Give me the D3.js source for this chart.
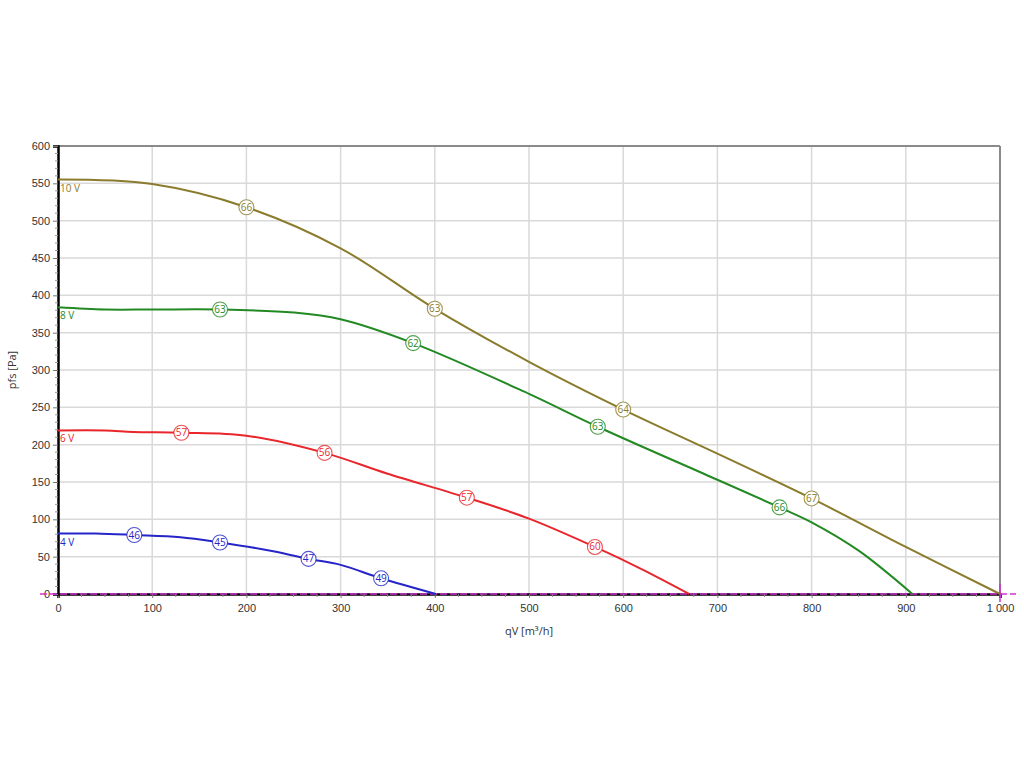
<!DOCTYPE html>
<html><head><meta charset="utf-8">
<script src="https://cdn.jsdelivr.net/npm/d3@7"></script>
<style>
body{margin:0;background:#fff;}
svg{display:block;font-family:"Open Sans","Noto Sans",sans-serif;}
</style></head>
<body><svg id="c" width="1024" height="768"></svg>
<script>
// ---- data ----
const xTicks = [0,100,200,300,400,500,600,700,800,900,1000];
const xTickLabels = ["0","100","200","300","400","500","600","700","800","900","1 000"];
const yTicks = [0,50,100,150,200,250,300,350,400,450,500,550,600];

const seriesNames = ["10 V","8 V","6 V","4 V"];
const seriesColors = ["#8a7c2c","#238a23","#e8262b","#2525c8"];

const q10 = [0,100,200,300,400,500,600,700,800,900,1000];
const p10 = [555,549,518,463,382,311,247,188,128,63,0];
const q8 = [0,50,100,172,250,300,377,500,573,700,766,800,850,907];
const p8 = [384,381,381,381,377,368,336,268,224,153,116,96,58,0];
const q6 = [0,50,80,131,200,283,350,434,500,570,620,670];
const p6 = [219,219,217,216,212,189,161,129,101,63,33,0];
const q4 = [0,40,81,130,172,230,266,300,343,401];
const p4 = [81,81,79,76,69,57,47,39,21,0];

const mq10 = [200,400,600,800], mp10 = [518,382,247,128], ml10 = ["66","63","64","67"];
const mq8 = [172,377,573,766], mp8 = [381,336,224,116], ml8 = ["63","62","63","66"];
const mq6 = [131,283,434,570], mp6 = [216,189,129,63], ml6 = ["57","56","57","60"];
const mq4 = [81,172,266,343], mp4 = [79,69,47,21], ml4 = ["46","45","47","49"];

const xLabel = "qV [m³/h]";
const yLabel = "pfs [Pa]";

// ---- drawing ----
const svg = d3.select("#c");
const x = d3.scaleLinear().domain([0,1000]).range([58,1000]);
const y = d3.scaleLinear().domain([0,600]).range([594,146]);

// grid
const g = svg.append("g");
g.selectAll(".vg").data(xTicks.slice(1)).join("line")
  .attr("x1",d=>x(d)).attr("x2",d=>x(d)).attr("y1",y(600)).attr("y2",y(0))
  .attr("stroke","#d9d9d9").attr("stroke-width",1.5);
g.selectAll(".hg").data(yTicks.slice(1)).join("line")
  .attr("x1",x(0)).attr("x2",x(1000)).attr("y1",d=>y(d)).attr("y2",d=>y(d))
  .attr("stroke","#d9d9d9").attr("stroke-width",1.5);

// frame top/right
svg.append("line").attr("x1",x(0)).attr("x2",x(1000)).attr("y1",y(600)).attr("y2",y(600))
  .attr("stroke","#8a8a8a").attr("stroke-width",2);
svg.append("line").attr("x1",x(1000)).attr("x2",x(1000)).attr("y1",y(600)).attr("y2",y(0))
  .attr("stroke","#8a8a8a").attr("stroke-width",2);

// axes
const xAxis = d3.axisBottom(x).tickValues(xTicks).tickFormat((d,i)=>xTickLabels[i]).tickSize(4).tickPadding(6);
const xa = svg.append("g").attr("transform",`translate(0,${y(0)})`).call(xAxis);
const xMinor = d3.range(0,1001,25).filter(v=>v%100!==0);
xa.selectAll(".mn").data(xMinor).join("line").attr("x1",d=>x(d)).attr("x2",d=>x(d))
  .attr("y1",0).attr("y2",3).attr("stroke","#888");
const yAxis = d3.axisLeft(y).tickValues(yTicks).tickSize(5).tickPadding(3);
const ya = svg.append("g").attr("transform",`translate(${x(0)},0)`).call(yAxis);
const yMinor = d3.range(0,601,10).filter(v=>v%50!==0);
ya.selectAll(".mn").data(yMinor).join("line").attr("x1",-3).attr("x2",0)
  .attr("y1",d=>y(d)).attr("y2",d=>y(d)).attr("stroke","#999");
[xa,ya].forEach(a=>{
  a.select(".domain").attr("stroke","#000").attr("stroke-width",2.5);
  a.selectAll(".tick line").attr("stroke","#777");
  a.selectAll(".tick text").attr("fill","#333").style("font-size","11px");
});

// axis titles
svg.append("text").attr("x",529).attr("y",635).attr("text-anchor","middle")
  .attr("fill","#333").style("font-size","11px").text(xLabel);
svg.append("text").attr("transform",`translate(16,${370}) rotate(-90)`).attr("text-anchor","middle")
  .attr("fill","#333").style("font-size","11px").text(yLabel);

// magenta baseline
svg.append("line").attr("x1",40).attr("x2",1016).attr("y1",y(0)).attr("y2",y(0))
  .attr("stroke","#d030d0").attr("stroke-width",1.6).attr("stroke-dasharray","7,3");
svg.append("line").attr("x1",x(1000)).attr("x2",x(1000)).attr("y1",y(0)-10).attr("y2",y(0)+8)
  .attr("stroke","#d030d0").attr("stroke-width",1.5);

// curves
const allQ = [q10,q8,q6,q4], allP = [p10,p8,p6,p4];
const allMQ = [mq10,mq8,mq6,mq4], allMP=[mp10,mp8,mp6,mp4], allML=[ml10,ml8,ml6,ml4];
const line = d3.line().x(d=>x(d[0])).y(d=>y(d[1])).curve(d3.curveCatmullRom.alpha(0.5));
allQ.forEach((qs,i)=>{
  const pts = qs.map((q,j)=>[q,allP[i][j]]);
  svg.append("path").attr("d",line(pts)).attr("fill","none")
    .attr("stroke",seriesColors[i]).attr("stroke-width",2);
  svg.append("text").attr("x",x(0)+2).attr("y",y(allP[i][0])+12)
    .attr("fill",seriesColors[i]).style("font-size","10px").text(seriesNames[i]);
});
allMQ.forEach((mq,i)=>{
  const mg = svg.append("g");
  mq.forEach((q,j)=>{
    const cx = x(q), cy = y(allMP[i][j]);
    mg.append("circle").attr("cx",cx).attr("cy",cy).attr("r",7.5)
      .attr("fill","#fff").attr("stroke",seriesColors[i]).attr("stroke-width",1.1).attr("stroke-opacity",0.8);
    mg.append("text").attr("x",cx).attr("y",cy+3.5).attr("text-anchor","middle")
      .attr("fill",seriesColors[i]).style("font-size","10px").text(allML[i][j]);
  });
});
</script></body></html>
